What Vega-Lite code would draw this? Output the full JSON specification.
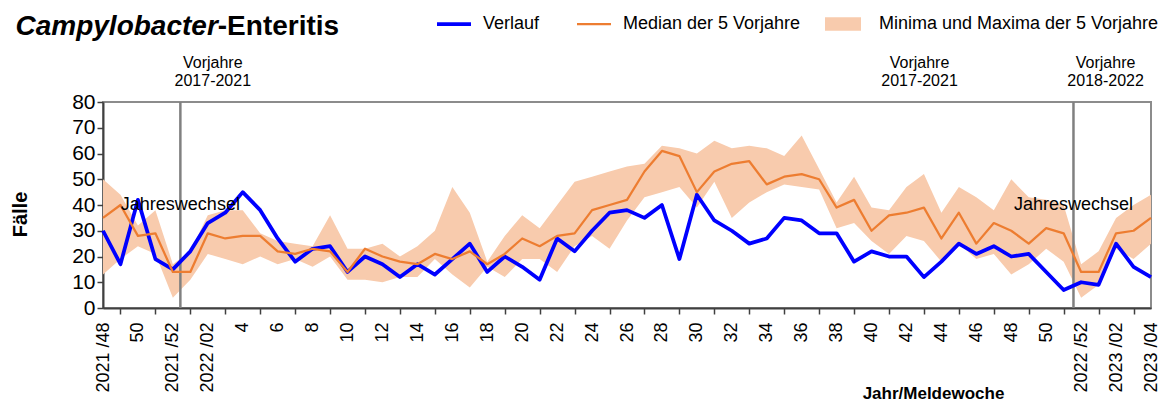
{
  "$schema": "https://vega.github.io/schema/vega-lite/v6.json",
  "width": 1048,
  "height": 206,
  "autosize": {"type": "none"},
  "padding": {"left": 103, "top": 102, "right": 12, "bottom": 93},
  "background": "white",
  "config": {
    "font": "Liberation Sans",
    "view": {"stroke": "#8c8c8c", "strokeWidth": 2},
    "axisY": {"tickCount": 10, "labelOverlap": false},
    "legend": {"labelFont": "Liberation Sans", "labelColor": "black", "labelLimit": 500}
  },
  "data": {"values": [
    {"woche": "2021/48", "verlauf": 30, "median": 35, "min": 13, "max": 50},
    {"woche": "2021/49", "verlauf": 17, "median": 40, "min": 19, "max": 44},
    {"woche": "2021/50", "verlauf": 42, "median": 28, "min": 24, "max": 32},
    {"woche": "2021/51", "verlauf": 19, "median": 29, "min": 21, "max": 38},
    {"woche": "2021/52", "verlauf": 15, "median": 14, "min": 4, "max": 17},
    {"woche": "2022/01", "verlauf": 22, "median": 14, "min": 11, "max": 22},
    {"woche": "2022/02", "verlauf": 33, "median": 29, "min": 21, "max": 36},
    {"woche": "2022/03", "verlauf": 37, "median": 27, "min": 19, "max": 38},
    {"woche": "2022/04", "verlauf": 45, "median": 28, "min": 17, "max": 38},
    {"woche": "2022/05", "verlauf": 38, "median": 28, "min": 20, "max": 29},
    {"woche": "2022/06", "verlauf": 27, "median": 22, "min": 17, "max": 26},
    {"woche": "2022/07", "verlauf": 18, "median": 21, "min": 19, "max": 25},
    {"woche": "2022/08", "verlauf": 23, "median": 23, "min": 16, "max": 24},
    {"woche": "2022/09", "verlauf": 24, "median": 22, "min": 20, "max": 36},
    {"woche": "2022/10", "verlauf": 14, "median": 14, "min": 11, "max": 23},
    {"woche": "2022/11", "verlauf": 20, "median": 23, "min": 11, "max": 23},
    {"woche": "2022/12", "verlauf": 17, "median": 20, "min": 10, "max": 25},
    {"woche": "2022/13", "verlauf": 12, "median": 18, "min": 12, "max": 20},
    {"woche": "2022/14", "verlauf": 17, "median": 17, "min": 12, "max": 24},
    {"woche": "2022/15", "verlauf": 13, "median": 21, "min": 19, "max": 30},
    {"woche": "2022/16", "verlauf": 19, "median": 19, "min": 13, "max": 47},
    {"woche": "2022/17", "verlauf": 25, "median": 22, "min": 8, "max": 37},
    {"woche": "2022/18", "verlauf": 14, "median": 17, "min": 16, "max": 18},
    {"woche": "2022/19", "verlauf": 20, "median": 21, "min": 12, "max": 28},
    {"woche": "2022/20", "verlauf": 16, "median": 27, "min": 19, "max": 36},
    {"woche": "2022/21", "verlauf": 11, "median": 24, "min": 19, "max": 31},
    {"woche": "2022/22", "verlauf": 27, "median": 28, "min": 14, "max": 40},
    {"woche": "2022/23", "verlauf": 22, "median": 29, "min": 24, "max": 49},
    {"woche": "2022/24", "verlauf": 30, "median": 38, "min": 28, "max": 51},
    {"woche": "2022/25", "verlauf": 37, "median": 40, "min": 23, "max": 53},
    {"woche": "2022/26", "verlauf": 38, "median": 42, "min": 34, "max": 55},
    {"woche": "2022/27", "verlauf": 35, "median": 53, "min": 43, "max": 56},
    {"woche": "2022/28", "verlauf": 40, "median": 61, "min": 45, "max": 63},
    {"woche": "2022/29", "verlauf": 19, "median": 59, "min": 47, "max": 62},
    {"woche": "2022/30", "verlauf": 44, "median": 45, "min": 39, "max": 60},
    {"woche": "2022/31", "verlauf": 34, "median": 53, "min": 49, "max": 65},
    {"woche": "2022/32", "verlauf": 30, "median": 56, "min": 35, "max": 62},
    {"woche": "2022/33", "verlauf": 25, "median": 57, "min": 41, "max": 63},
    {"woche": "2022/34", "verlauf": 27, "median": 48, "min": 45, "max": 62},
    {"woche": "2022/35", "verlauf": 35, "median": 51, "min": 48, "max": 59},
    {"woche": "2022/36", "verlauf": 34, "median": 52, "min": 47, "max": 67},
    {"woche": "2022/37", "verlauf": 29, "median": 50, "min": 46, "max": 54},
    {"woche": "2022/38", "verlauf": 29, "median": 39, "min": 31, "max": 41},
    {"woche": "2022/39", "verlauf": 18, "median": 42, "min": 33, "max": 51},
    {"woche": "2022/40", "verlauf": 22, "median": 30, "min": 26, "max": 39},
    {"woche": "2022/41", "verlauf": 20, "median": 36, "min": 21, "max": 38},
    {"woche": "2022/42", "verlauf": 20, "median": 37, "min": 28, "max": 47},
    {"woche": "2022/43", "verlauf": 12, "median": 39, "min": 26, "max": 52},
    {"woche": "2022/44", "verlauf": 18, "median": 27, "min": 18, "max": 37},
    {"woche": "2022/45", "verlauf": 25, "median": 37, "min": 25, "max": 47},
    {"woche": "2022/46", "verlauf": 21, "median": 25, "min": 19, "max": 43},
    {"woche": "2022/47", "verlauf": 24, "median": 33, "min": 21, "max": 38},
    {"woche": "2022/48", "verlauf": 20, "median": 30, "min": 13, "max": 50},
    {"woche": "2022/49", "verlauf": 21, "median": 25, "min": 17, "max": 43},
    {"woche": "2022/50", "verlauf": 14, "median": 31, "min": 23, "max": 42},
    {"woche": "2022/51", "verlauf": 7, "median": 29, "min": 18, "max": 40},
    {"woche": "2022/52", "verlauf": 10, "median": 14, "min": 4, "max": 17},
    {"woche": "2023/01", "verlauf": 9, "median": 14, "min": 9, "max": 22},
    {"woche": "2023/02", "verlauf": 25, "median": 29, "min": 23, "max": 35},
    {"woche": "2023/03", "verlauf": 16, "median": 30, "min": 19, "max": 40},
    {"woche": "2023/04", "verlauf": 12, "median": 35, "min": 25, "max": 44}
  ]},
  "layer": [
    {
      "mark": {"type": "area", "opacity": 1, "interpolate": "linear"},
      "encoding": {
        "x": {
          "field": "woche", "type": "ordinal",
          "scale": {"type": "point", "padding": 0},
          "axis": {
            "title": "Jahr/Meldewoche", "titleFontSize": 17, "titleFontWeight": "bold", "titleColor": "black",
            "titleX": 830, "titleY": 77, "titleAlign": "center", "titleBaseline": "top",
            "labelAngle": -90, "labelAlign": "right", "labelBaseline": "middle",
            "labelFontSize": 18, "labelColor": "black", "labelPadding": 8, "labelOverlap": false,
            "labelExpr": "toNumber(split(datum.value,'/')[1]) % 2 === 1 ? '' : (indexof(['2021/48','2021/52','2022/02','2022/52','2023/02','2023/04'], datum.value) >= 0 ? replace(datum.value, '/', ' /') : '' + toNumber(split(datum.value,'/')[1]))",
            "tickSize": 6, "tickColor": "#404040", "tickWidth": 1.5,
            "tickOpacity": {"condition": {"test": "toNumber(split(datum.value,'/')[1]) % 2 === 1", "value": 1}, "value": 0},
            "domainColor": "#404040", "domainWidth": 2, "grid": false
          }
        },
        "y": {
          "field": "max", "type": "quantitative",
          "scale": {"domain": [0, 80], "nice": false},
          "axis": {
            "title": "Fälle", "titleFontSize": 20, "titleFontWeight": "bold", "titleColor": "black",
            "titleX": -73, "titleY": 112, "titleAlign": "center", "titleBaseline": "bottom", "titleAngle": -90,
            "values": [0, 10, 20, 30, 40, 50, 60, 70, 80], "tickCount": 10, "labelOverlap": false,
            "labelFontSize": 21, "labelColor": "black", "labelPadding": 2,
            "tickSize": 6, "tickColor": "#404040", "tickWidth": 1.5,
            "domainColor": "#404040", "domainWidth": 2, "grid": false
          }
        },
        "y2": {"field": "min"},
        "fill": {
          "datum": "Minima und Maxima der 5 Vorjahre", "type": "nominal",
          "scale": {"range": ["#f8cbad"]},
          "legend": {
            "orient": "none", "legendX": 722, "legendY": -96, "title": null, "padding": 0,
            "symbolType": "M-1,-0.38H1V0.38H-1Z", "symbolSize": 1296, "symbolStrokeWidth": 0, "symbolOpacity": 1,
            "labelFontSize": 18, "labelOffset": 18
          }
        }
      }
    },
    {
      "data": {"values": [{}]},
      "mark": {"type": "rule", "color": "#808080", "strokeWidth": 2.5, "xOffset": 7.5},
      "encoding": {"x": {"datum": "2021/52", "type": "ordinal"}}
    },
    {
      "data": {"values": [{}]},
      "mark": {"type": "rule", "color": "#808080", "strokeWidth": 2.5, "xOffset": 9.8},
      "encoding": {"x": {"datum": "2022/51", "type": "ordinal"}}
    },
    {
      "mark": {"type": "line", "strokeWidth": 3.75, "strokeJoin": "round"},
      "encoding": {
        "x": {"field": "woche", "type": "ordinal"},
        "y": {"field": "verlauf", "type": "quantitative"},
        "color": {
          "datum": "Verlauf", "type": "nominal",
          "scale": {"domain": ["Verlauf", "Median der 5 Vorjahre"], "range": ["#0000ff", "#ed7d31"]},
          "legend": {
            "orient": "none", "legendX": 342, "legendY": -87, "direction": "horizontal", "title": null, "padding": 0,
            "symbolType": "stroke", "symbolSize": 1156, "symbolStrokeWidth": 3,
            "labelFontSize": 18, "labelOffset": 20, "columnPadding": 32,
            "encode": {"symbols": {"update": {"strokeWidth": {"signal": "datum.value === 'Verlauf' ? 3.75 : 2.25"}}}}
          }
        }
      }
    },
    {
      "mark": {"type": "line", "strokeWidth": 2.25, "strokeJoin": "round"},
      "encoding": {
        "x": {"field": "woche", "type": "ordinal"},
        "y": {"field": "median", "type": "quantitative"},
        "color": {"datum": "Median der 5 Vorjahre", "type": "nominal"}
      }
    },
    {
      "data": {"values": [{}]},
      "mark": {"type": "text", "text": "Jahreswechsel", "fontSize": 18, "color": "black", "align": "center", "baseline": "middle", "dx": 7.5},
      "encoding": {"x": {"datum": "2021/52", "type": "ordinal"}, "y": {"datum": 40, "type": "quantitative"}}
    },
    {
      "data": {"values": [{}]},
      "mark": {"type": "text", "text": "Jahreswechsel", "fontSize": 18, "color": "black", "align": "center", "baseline": "middle", "dx": 9.8},
      "encoding": {"x": {"datum": "2022/51", "type": "ordinal"}, "y": {"datum": 40, "type": "quantitative"}}
    },
    {
      "data": {"values": [{}]},
      "mark": {"type": "text", "text": ["Vorjahre", "2017-2021"], "fontSize": 16, "lineHeight": 18, "color": "black", "align": "center", "baseline": "middle", "dx": 5},
      "encoding": {"x": {"datum": "2022/02", "type": "ordinal"}, "y": {"datum": 95, "type": "quantitative"}}
    },
    {
      "data": {"values": [{}]},
      "mark": {"type": "text", "text": ["Vorjahre", "2017-2021"], "fontSize": 16, "lineHeight": 18, "color": "black", "align": "center", "baseline": "middle", "dx": -4.4},
      "encoding": {"x": {"datum": "2022/43", "type": "ordinal"}, "y": {"datum": 95, "type": "quantitative"}}
    },
    {
      "data": {"values": [{}]},
      "mark": {"type": "text", "text": ["Vorjahre", "2018-2022"], "fontSize": 16, "lineHeight": 18, "color": "black", "align": "center", "baseline": "middle", "dx": 7},
      "encoding": {"x": {"datum": "2023/01", "type": "ordinal"}, "y": {"datum": 95, "type": "quantitative"}}
    },
    {
      "data": {"values": [{}]},
      "mark": {"type": "text", "text": "Campylobacter", "fontSize": 28, "fontWeight": "bold", "fontStyle": "italic", "color": "black", "align": "right", "baseline": "alphabetic", "dx": 10},
      "encoding": {"x": {"datum": "2022/02", "type": "ordinal"}, "y": {"datum": 106.2, "type": "quantitative"}}
    },
    {
      "data": {"values": [{}]},
      "mark": {"type": "text", "text": "-Enteritis", "fontSize": 28, "fontWeight": "bold", "color": "black", "align": "left", "baseline": "alphabetic", "dx": 10},
      "encoding": {"x": {"datum": "2022/02", "type": "ordinal"}, "y": {"datum": 106.2, "type": "quantitative"}}
    }
  ]
}
